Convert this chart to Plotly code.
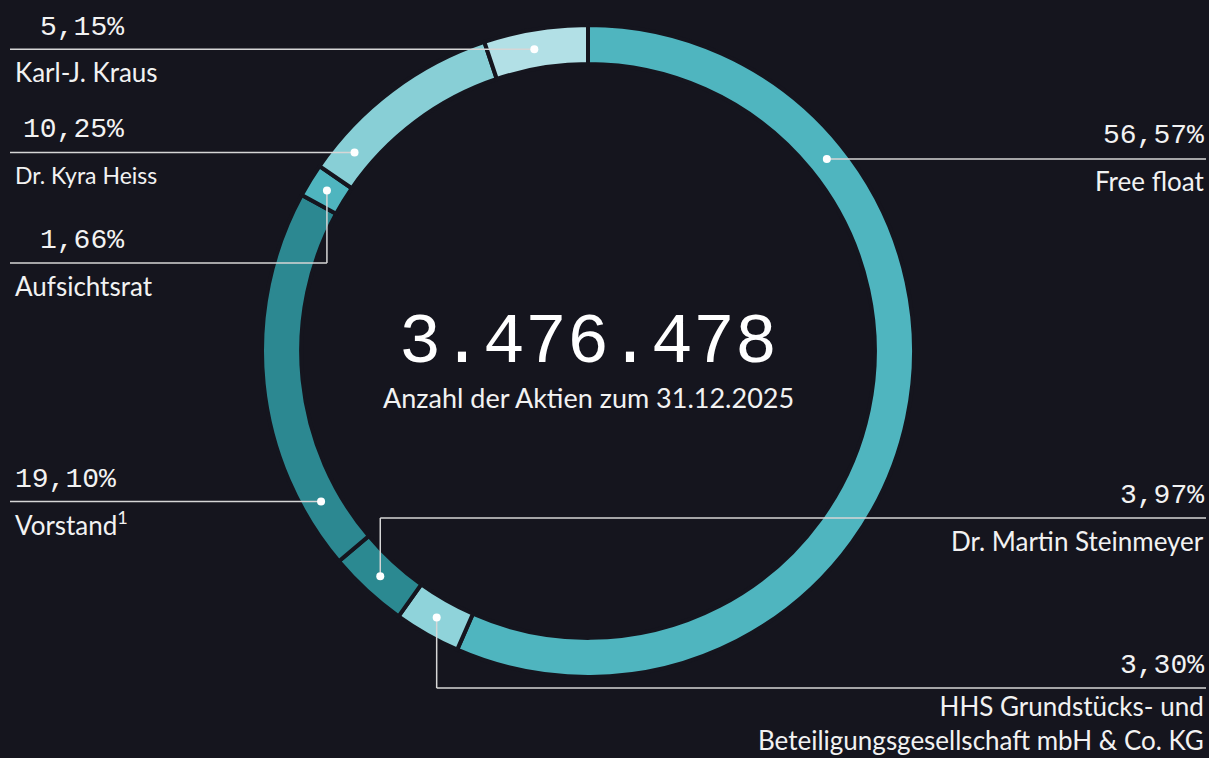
import math
import plotly.graph_objects as go

# ---------------- data ----------------
holders = ["Free float",
           "HHS Grundstücks- und<br>Beteiligungsgesellschaft mbH & Co. KG",
           "Dr. Martin Steinmeyer",
           "Vorstand<sup>1</sup>",
           "Aufsichtsrat",
           "Dr. Kyra Heiss",
           "Karl-J. Kraus"]
shares = [56.57, 3.30, 3.97, 19.10, 1.66, 10.25, 5.15]
total_shares = "3.476.478"
subtitle = "Anzahl der Aktien zum 31.12.2025"

# ---------------- style ----------------
BG = "#15151e"
colors = ["#4fb5bf", "#8fd3da", "#2b8991", "#2c8891", "#4fb5bf", "#88cfd6", "#b2e0e6"]
LINE_C = "#d6d6d6"
TXT_C = "#f2f2f2"
MONO = "Liberation Mono, DejaVu Sans Mono, monospace"
SANS = "Lato, Open Sans, sans-serif"

W, H = 1209, 758
CX, CY = 588, 351
R_OUT = 326
HOLE = 0.88
R_MID = R_OUT * (1 + HOLE) / 2


def px(x):
    return x / W


def py(y):
    return 1 - y / H


# label layout (positions only), in slice order
label_layout = [
    dict(side="right", mode="h", line_y=159, pct=(1206, 135, "right"), name=(1206, 181, "right"), name_size=26),
    dict(side="right", mode="v", frac=0.5, line_y=688, pct=(1206, 665, "right"), name=(1206, 723, "right"), name_size=26),
    dict(side="right", mode="v", frac=0.5, line_y=518, pct=(1206, 495, "right"), name=(1206, 541, "right"), name_size=26),
    dict(side="left", mode="h", line_y=501.5, pct=(13, 479, "left"), name=(13, 523, "left"), name_size=26),
    dict(side="left", mode="v", frac=0.5, line_y=263, pct=(38, 240, "left"), name=(13, 286, "left"), name_size=26),
    dict(side="left", mode="h", line_y=152.5, pct=(21, 130, "left"), name=(13, 175, "left"), name_size=23),
    dict(side="left", mode="h", line_y=49.3, pct=(38, 28, "left"), name=(13, 72, "left"), name_size=26),
]

fig = go.Figure()
fig.add_trace(go.Pie(
    values=shares,
    labels=[h.replace("<br>", " ") for h in holders],
    hole=HOLE,
    sort=False,
    direction="clockwise",
    rotation=0,
    textinfo="none",
    hoverinfo="label+percent",
    marker=dict(colors=colors, line=dict(color=BG, width=4)),
    domain=dict(x=[px(CX - R_OUT), px(CX + R_OUT)], y=[py(CY + R_OUT), py(CY - R_OUT)]),
    showlegend=False,
))

shapes = []
annotations = []
total = sum(shares)
cum = 0.0
for val, name, lay in zip(shares, holders, label_layout):
    a0 = cum / total * 360
    a1 = (cum + val) / total * 360
    cum += val
    end_x = 10 if lay["side"] == "left" else 1206
    if lay["mode"] == "h":
        dy = lay["line_y"] - CY
        dx = math.sqrt(max(R_MID ** 2 - dy ** 2, 0))
        dot_x = CX - dx if lay["side"] == "left" else CX + dx
        dot_y = lay["line_y"]
        shapes.append(dict(type="line", xref="paper", yref="paper",
                           x0=px(end_x), x1=px(dot_x), y0=py(dot_y), y1=py(dot_y),
                           line=dict(color=LINE_C, width=1.5)))
    else:
        ang = math.radians(a0 + (a1 - a0) * lay["frac"])
        dot_x = CX + R_MID * math.sin(ang)
        dot_y = CY - R_MID * math.cos(ang)
        shapes.append(dict(type="line", xref="paper", yref="paper",
                           x0=px(dot_x), x1=px(dot_x), y0=py(dot_y), y1=py(lay["line_y"]),
                           line=dict(color=LINE_C, width=1.5)))
        shapes.append(dict(type="line", xref="paper", yref="paper",
                           x0=px(dot_x), x1=px(end_x), y0=py(lay["line_y"]), y1=py(lay["line_y"]),
                           line=dict(color=LINE_C, width=1.5)))
    r = 4
    shapes.append(dict(type="circle", xref="paper", yref="paper",
                       x0=px(dot_x - r), x1=px(dot_x + r), y0=py(dot_y + r), y1=py(dot_y - r),
                       fillcolor="#ffffff", line=dict(width=0)))
    pct_text = f"{val:.2f}%".replace(".", ",")
    x, y, anc = lay["pct"]
    annotations.append(dict(text=pct_text, x=px(x), y=py(y), xref="paper", yref="paper",
                            xanchor=anc, yanchor="middle", showarrow=False,
                            font=dict(family=MONO, size=28, color=TXT_C)))
    x, y, anc = lay["name"]
    annotations.append(dict(text=name, x=px(x), y=py(y), xref="paper", yref="paper",
                            xanchor=anc, yanchor="middle", showarrow=False, align=anc,
                            font=dict(family=SANS, size=lay["name_size"], color=TXT_C)))

annotations.append(dict(text=total_shares, x=px(CX), y=py(343), xref="paper", yref="paper",
                        xanchor="center", yanchor="middle", showarrow=False,
                        font=dict(family=MONO, size=70, color="#ffffff")))
annotations.append(dict(text=subtitle, x=px(CX), y=py(397), xref="paper", yref="paper",
                        xanchor="center", yanchor="middle", showarrow=False,
                        font=dict(family=SANS, size=27, color=TXT_C)))

fig.update_layout(
    width=W, height=H,
    margin=dict(l=0, r=0, t=0, b=0),
    paper_bgcolor=BG, plot_bgcolor=BG,
    shapes=shapes, annotations=annotations,
)

fig.write_html("out.html",
               config={"displayModeBar": False},
               post_script="document.body.style.margin='0px';document.body.style.overflow='hidden';document.body.style.background='" + BG + "';")
